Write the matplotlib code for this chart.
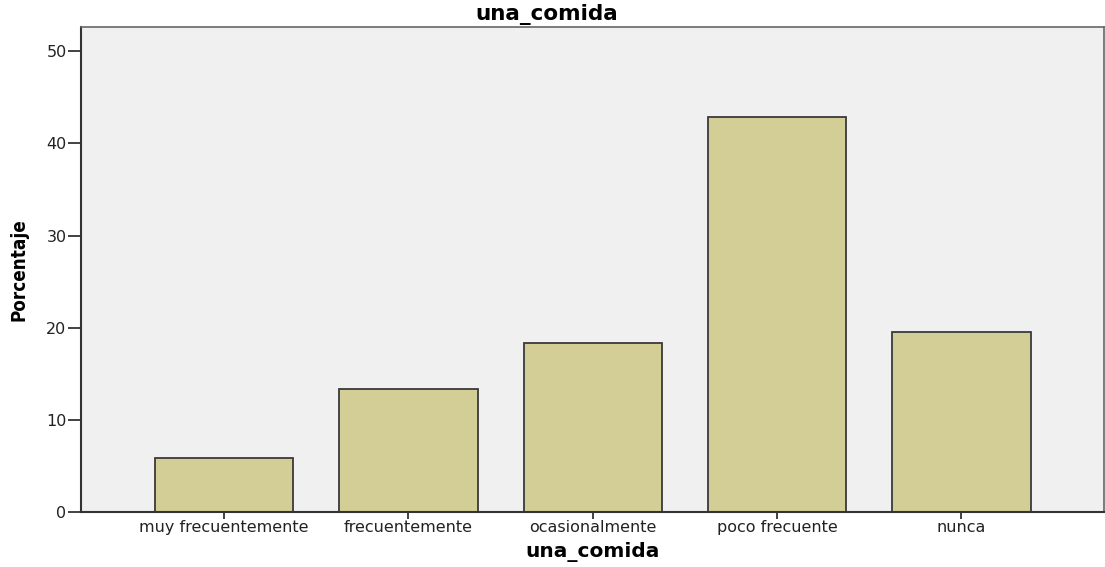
import matplotlib.pyplot as plt

categorias = ['muy frecuentemente', 'frecuentemente', 'ocasionalmente', 'poco frecuente', 'nunca']
porcentaje = [5.9, 13.3, 18.3, 42.9, 19.5]
yticks = [0, 10, 20, 30, 40, 50]

plt.rcParams['font.family'] = ['DejaVu Sans']

fig = plt.figure(figsize=(11.05, 5.67), dpi=100)
ax = fig.add_axes([0.0733, 0.097, 0.9257, 0.855])
ax.set_facecolor('#f0f0f0')

x = range(len(categorias))
ax.bar(x, porcentaje, width=0.75, color='#d3cd96', edgecolor='#3a3a3a', linewidth=1.3)

ax.set_xlim(-0.776, 4.773)
ax.set_ylim(0, 52.6)
ax.set_xticks(list(x))
ax.set_xticklabels(categorias, fontsize=11.5, color='#222222')
ax.set_yticks(yticks)
ax.tick_params(axis='y', labelsize=11.5, labelcolor='#222222', length=9.4, width=1.3,
               color='#333333', pad=1)
ax.tick_params(axis='x', length=5, width=1.3, color='#333333', pad=1)

for s in ['left', 'bottom']:
    ax.spines[s].set_color('#333333')
    ax.spines[s].set_linewidth(1.5)
for s in ['top', 'right']:
    ax.spines[s].set_color('#666666')
    ax.spines[s].set_linewidth(1.2)

fig.text(0.495, 0.975, 'una_comida', fontsize=15.5, fontweight='bold', ha='center', va='center')
ax.set_xlabel('una_comida', fontsize=14.5, fontweight='bold', labelpad=5)
ax.set_ylabel('Porcentaje', fontsize=13.5, fontweight='bold', fontstretch='condensed', labelpad=13,
              family=['DejaVu Sans'])

fig.savefig('out.png', dpi=100)
